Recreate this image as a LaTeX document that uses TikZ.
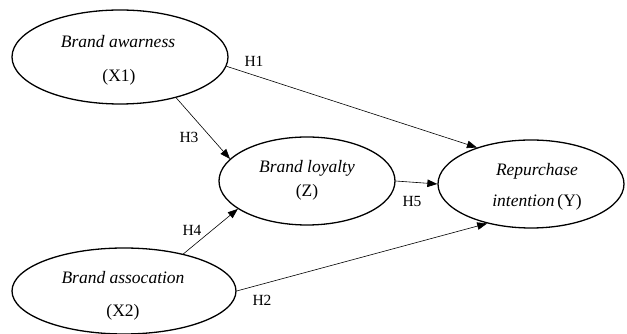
\documentclass[tikz,border=0pt]{standalone}
\usepackage{fontspec}
\setmainfont{Liberation Serif}
\usetikzlibrary{shapes.geometric,arrows.meta}
\begin{document}
\begin{tikzpicture}[x=1pt,y=1pt,
  construct/.style={draw,ellipse,line width=1.3pt,inner sep=0pt},
  ctext/.style={anchor=base,inner sep=0pt,font=\fontsize{17.5}{20}\selectfont},
  path/.style={draw,line width=0.6pt,-{Triangle[length=10pt,width=7.5pt]}},
  hlabel/.style={font=\fontsize{15.5}{18}\selectfont}]
\useasboundingbox (0,0) rectangle (627,334);
\node[construct,minimum width=216pt,minimum height=94pt] (X1) at (120,277) {};
\node[construct,minimum width=176pt,minimum height=88pt] (Z) at (307,153) {};
\node[construct,minimum width=186pt,minimum height=88pt] (Y) at (531,150) {};
\node[construct,minimum width=224pt,minimum height=86pt] (X2) at (124,43) {};
\node[ctext] (t1a) at (118,286) {\textit{Brand awarness}};
\node[ctext] (t1b) at (119,252) {(X1)};
\node[ctext] (tza) at (307,161) {\textit{Brand loyalty}};
\node[ctext] (tzb) at (307,137) {(Z)};
\node[ctext] (tya) at (537,158) {\textit{Repurchase}};
\node[ctext] (tyb) at (537,127) {\textit{intention}\,(Y)};
\node[ctext] (t2a) at (123,50) {\textit{Brand assocation}};
\node[ctext] (t2b) at (123,17) {(X2)};
\draw[path] (X1.-5) -- (Y.146);
\draw[path] (X1.-36) -- (Z.164);
\draw[path] (X2.32) -- (Z.202);
\draw[path] (X2.0) -- (Y.222);
\draw[path] (Z.east) -- (Y.west);
\node[hlabel] (h1) at (254,273) {H1};
\node[hlabel] (h3) at (189,197) {H3};
\node[hlabel] (h4) at (192,104) {H4};
\node[hlabel] (h2) at (262,34) {H2};
\node[hlabel] (h5) at (412,132) {H5};
\end{tikzpicture}
\end{document}
